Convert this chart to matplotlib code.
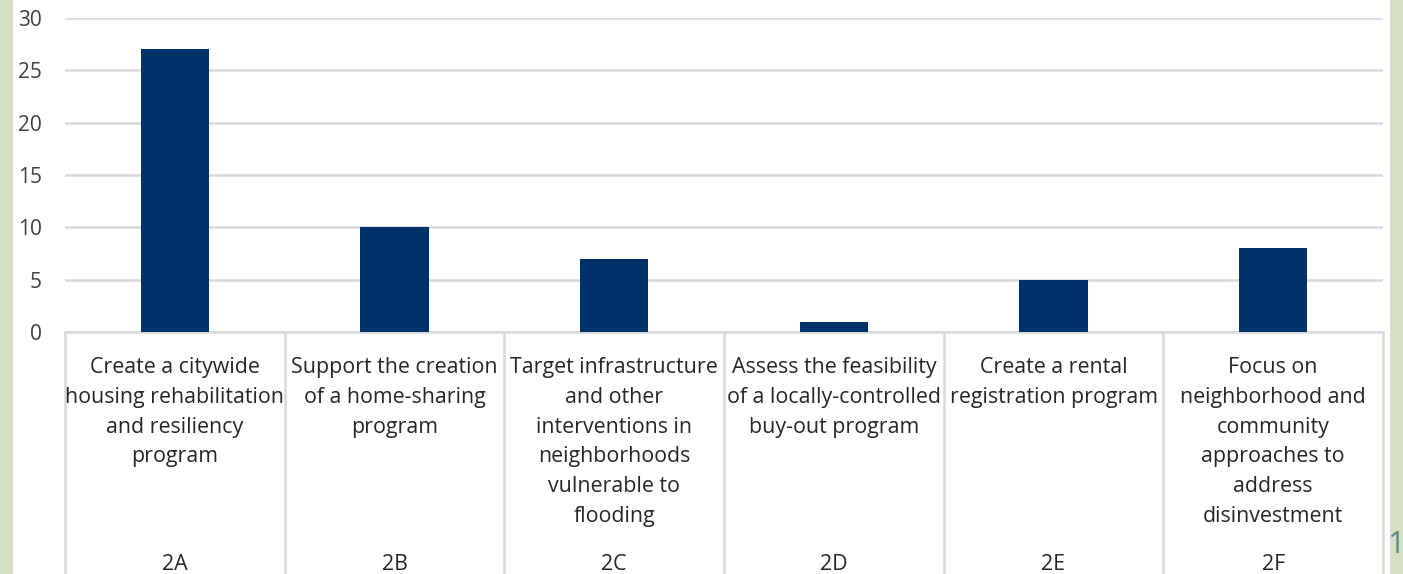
import matplotlib.pyplot as plt
import matplotlib.transforms as mtransforms
from matplotlib.patches import Rectangle

codes = ["2A", "2B", "2C", "2D", "2E", "2F"]
labels = [
    "Create a citywide\nhousing rehabilitation\nand resiliency\nprogram",
    "Support the creation\nof a home-sharing\nprogram",
    "Target infrastructure\nand other\ninterventions in\nneighborhoods\nvulnerable to\nflooding",
    "Assess the feasibility\nof a locally-controlled\nbuy-out program",
    "Create a rental\nregistration program",
    "Focus on\nneighborhood and\ncommunity\napproaches to\naddress\ndisinvestment",
]
counts = [27, 10, 7, 1, 5, 8]
yticks = [0, 5, 10, 15, 20, 25, 30]

W, H = 1403, 574
plt.rcParams['font.family'] = ['Open Sans', 'DejaVu Sans']

fig = plt.figure(figsize=(W / 100, H / 100), dpi=100, facecolor='#d6dfc1')
# white page area
fig.patches.append(Rectangle((13 / W, 0), (1390 - 13) / W, 1, transform=fig.transFigure,
                             facecolor='white', edgecolor='none', zorder=-10))

left, right = 65 / W, 1383 / W
bottom, top = (H - 332) / H, (H - 18) / H
ax = fig.add_axes([left, bottom, right - left, top - bottom])
ax.set_facecolor('none')

x = list(range(len(codes)))
ax.bar(x, counts, width=0.31, color='#003169', zorder=3)
ax.set_xlim(-0.5, len(codes) - 0.5)
ax.set_ylim(0, 30)
ax.set_yticks(yticks)
ax.tick_params(axis='y', length=0, pad=16.5, labelsize=15, labelcolor='#404040')
ax.set_xticks([])
for s in ax.spines.values():
    s.set_visible(False)
ax.grid(axis='y', color='#d9d9d9', linewidth=1.8, zorder=0)
ax.set_axisbelow(True)

# category axis boxes
trans = mtransforms.blended_transform_factory(ax.transData, ax.transAxes)
for b in [i - 0.5 for i in range(len(codes) + 1)]:
    ax.plot([b, b], [0, -1.2], transform=trans, color='#d9d9d9', linewidth=1.8,
            clip_on=False, zorder=1)
ax.plot([-0.5, len(codes) - 0.5], [0, 0], transform=trans, color='#d9d9d9',
        linewidth=1.8, clip_on=False, zorder=2)

ax_h_px = (top - bottom) * H
for i, (lab, code) in enumerate(zip(labels, codes)):
    ax.text(i, -25 / ax_h_px, lab, transform=trans, ha='center', va='top',
            fontsize=15.4, color='#262626', linespacing=1.55)
    ax.text(i, -(564 - 332) / ax_h_px, code, transform=trans, ha='center',
            va='center', fontsize=15.4, color='#262626')

fig.text(1396 / W, 1 - 545 / H, "1", ha='center', va='center', fontsize=22,
         color='#5b8a8a')

fig.savefig('out.png', dpi=100, facecolor=fig.get_facecolor())
